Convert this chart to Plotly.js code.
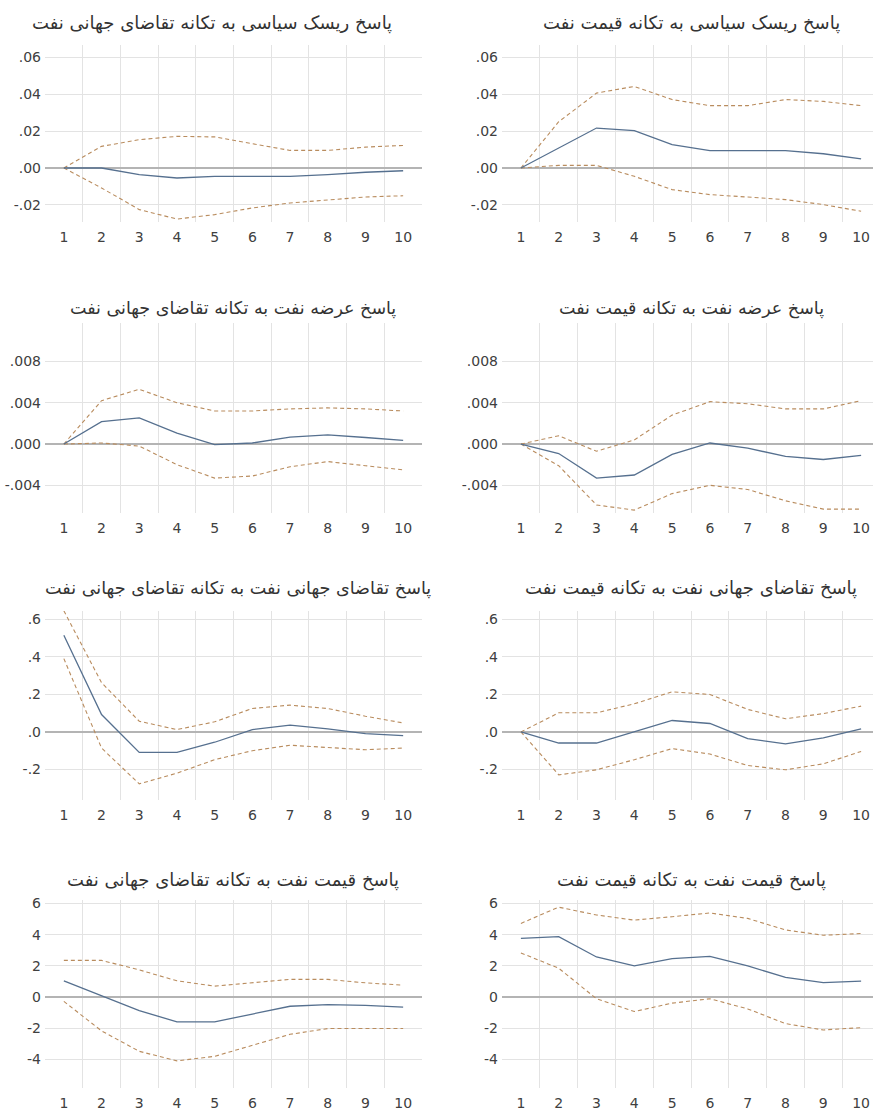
<!DOCTYPE html>
<html>
<head>
<meta charset="utf-8">
<script src="https://cdn.plot.ly/plotly-3.0.1.min.js"></script>
<style>
html,body{margin:0;padding:0;background:#fff;}
#chart{width:873px;height:1112px;}
</style>
</head>
<body>
<div id="chart"></div>
<script>
// Horizons
const periods = [1,2,3,4,5,6,7,8,9,10];

// Panel titles
const titles = [
  "پاسخ ریسک سیاسی به تکانه تقاضای جهانی نفت",
  "پاسخ ریسک سیاسی به تکانه قیمت نفت",
  "پاسخ عرضه نفت به تکانه تقاضای جهانی نفت",
  "پاسخ عرضه نفت به تکانه قیمت نفت",
  "پاسخ تقاضای جهانی نفت به تکانه تقاضای جهانی نفت",
  "پاسخ تقاضای جهانی نفت به تکانه قیمت نفت",
  "پاسخ قیمت نفت به تکانه تقاضای جهانی نفت",
  "پاسخ قیمت نفت به تکانه قیمت نفت"
];

// Panel 1: political risk <- world oil demand shock
const p1_mid   = [0, 0, -0.0036, -0.0054, -0.0045, -0.0045, -0.0045, -0.0036, -0.0023, -0.0015];
const p1_upper = [0, 0.0117, 0.0153, 0.0171, 0.0168, 0.0131, 0.0095, 0.0095, 0.0113, 0.0122];
const p1_lower = [0, -0.0108, -0.0225, -0.0276, -0.0252, -0.0216, -0.0189, -0.0171, -0.0157, -0.0150];

// Panel 2: political risk <- oil price shock
const p2_mid   = [0, 0.0108, 0.0216, 0.0202, 0.0126, 0.0094, 0.0094, 0.0094, 0.0077, 0.0049];
const p2_upper = [0, 0.0250, 0.0405, 0.0441, 0.0370, 0.0337, 0.0337, 0.0370, 0.0360, 0.0337];
const p2_lower = [0, 0.0014, 0.0014, -0.0045, -0.0117, -0.0144, -0.0157, -0.0171, -0.0198, -0.0234];

// Panel 3: oil supply <- world oil demand shock
const p3_mid   = [0, 0.00216, 0.00254, 0.00105, -0.00006, 0.0001, 0.00067, 0.00089, 0.00063, 0.00035];
const p3_upper = [0, 0.0042, 0.0053, 0.0040, 0.0032, 0.0032, 0.0034, 0.0035, 0.0034, 0.0032];
const p3_lower = [0, 0.0001, -0.0002, -0.0020, -0.0033, -0.0031, -0.0022, -0.0017, -0.0021, -0.0025];

// Panel 4: oil supply <- oil price shock
const p4_mid   = [0, -0.00092, -0.0033, -0.0030, -0.0010, 0.0001, -0.0004, -0.0012, -0.0015, -0.0011];
const p4_upper = [0, 0.0008, -0.0007, 0.0004, 0.0028, 0.0041, 0.0039, 0.0034, 0.0034, 0.0042];
const p4_lower = [0, -0.0021, -0.0059, -0.0064, -0.0048, -0.0040, -0.0044, -0.0055, -0.0063, -0.0063];

// Panel 5: world oil demand <- world oil demand shock
const p5_mid   = [0.516, 0.093, -0.109, -0.109, -0.055, 0.0125, 0.036, 0.016, -0.009, -0.020];
const p5_upper = [0.646, 0.2625, 0.057, 0.0125, 0.054, 0.125, 0.143, 0.125, 0.084, 0.048];
const p5_lower = [0.391, -0.086, -0.277, -0.220, -0.148, -0.100, -0.071, -0.082, -0.095, -0.086];

// Panel 6: world oil demand <- oil price shock
const p6_mid   = [0, -0.059, -0.059, 0, 0.061, 0.045, -0.036, -0.064, -0.032, 0.016];
const p6_upper = [0, 0.102, 0.102, 0.150, 0.214, 0.200, 0.120, 0.070, 0.098, 0.1375];
const p6_lower = [0, -0.229, -0.202, -0.148, -0.089, -0.118, -0.179, -0.202, -0.170, -0.104];

// Panel 7: oil price <- world oil demand shock
const p7_mid   = [1.04, 0.11, -0.87, -1.59, -1.59, -1.09, -0.59, -0.48, -0.54, -0.65];
const p7_upper = [2.35, 2.35, 1.74, 1.04, 0.70, 0.91, 1.13, 1.13, 0.91, 0.76];
const p7_lower = [-0.28, -2.17, -3.48, -4.09, -3.80, -3.09, -2.39, -2.02, -2.02, -2.02];

// Panel 8: oil price <- oil price shock
const p8_mid   = [3.76, 3.87, 2.57, 2.00, 2.46, 2.61, 2.00, 1.26, 0.93, 1.02];
const p8_upper = [4.72, 5.76, 5.26, 4.93, 5.15, 5.39, 5.04, 4.30, 3.96, 4.07];
const p8_lower = [2.83, 1.85, -0.11, -0.93, -0.39, -0.11, -0.76, -1.70, -2.11, -1.96];

// Y tick values / labels per row
const row1_tickvals = [-0.02, 0, 0.02, 0.04, 0.06];
const row1_ticktext = ["-.02", ".00", ".02", ".04", ".06"];
const row2_tickvals = [-0.004, 0, 0.004, 0.008];
const row2_ticktext = ["-.004", ".000", ".004", ".008"];
const row3_tickvals = [-0.2, 0, 0.2, 0.4, 0.6];
const row3_ticktext = ["-.2", ".0", ".2", ".4", ".6"];
const row4_tickvals = [-4, -2, 0, 2, 4, 6];
const row4_ticktext = ["-4", "-2", "0", "2", "4", "6"];
const xgrid_vals = [1.5, 2.5, 3.5, 4.5, 5.5, 6.5, 7.5, 8.5, 9.5];

const panels = [
  [p1_mid, p1_upper, p1_lower], [p2_mid, p2_upper, p2_lower],
  [p3_mid, p3_upper, p3_lower], [p4_mid, p4_upper, p4_lower],
  [p5_mid, p5_upper, p5_lower], [p6_mid, p6_upper, p6_lower],
  [p7_mid, p7_upper, p7_lower], [p8_mid, p8_upper, p8_lower]
];

const W = 873, H = 1112;
// layout geometry (pixels)
const rowBox = [[45, 222], [323, 513], [611, 800], [900, 1088]];
const rowRange = [[-0.0292, 0.0665], [-0.00668, 0.01172], [-0.363, 0.645], [-5.83, 6.22]];
const rowTicks = [[row1_tickvals, row1_ticktext], [row2_tickvals, row2_ticktext],
                  [row3_tickvals, row3_ticktext], [row4_tickvals, row4_ticktext]];
const titleY = [23, 308, 588, 880];
const colBox = [[45, 422], [502, 873]];
const colXRange = [[0.5, 10.5], [0.5, 10.5 - (880 - 873) / 37.7]];
const titleX = [[212, 691], [233, 691], [238, 691], [233, 691]];
const titleSize = [18, 18, 17.5, 17.5, 17.6, 18, 18, 18];

const blue = "#56708f";
const tan = "#b98c5e";
const tickFont = {family: "DejaVu Sans, sans-serif", size: 14, color: "#404040"};

const data = [];
const layout = {
  width: W, height: H,
  margin: {l: 0, r: 0, t: 0, b: 0},
  paper_bgcolor: "#ffffff", plot_bgcolor: "#ffffff",
  showlegend: false,
  annotations: []
};

panels.forEach((p, i) => {
  const r = Math.floor(i / 2), c = i % 2;
  const n = i + 1;
  const xa = "x" + (n === 1 ? "" : n), ya = "y" + (n === 1 ? "" : n);
  const xk = "xaxis" + (n === 1 ? "" : n), yk = "yaxis" + (n === 1 ? "" : n);
  [[p[1], true], [p[2], true], [p[0], false]].forEach(([vals, dashed]) => {
    data.push({
      x: periods, y: vals, xaxis: xa, yaxis: ya, type: "scatter", mode: "lines",
      line: dashed ? {color: tan, width: 1.1, dash: "4px,3px"} : {color: blue, width: 1.3},
      hoverinfo: "skip"
    });
  });
  layout[xk] = {
    domain: [colBox[c][0] / W, colBox[c][1] / W],
    range: colXRange[c], anchor: ya,
    tickvals: periods, ticktext: periods.map(String),
    showgrid: false, zeroline: false, showline: false,
    ticks: "outside", ticklen: 2, tickcolor: "rgba(0,0,0,0)",
    tickfont: tickFont,
    minor: {tickvals: xgrid_vals, showgrid: true, gridcolor: "#e3e3e3", gridwidth: 1, ticks: ""},
    fixedrange: true
  };
  layout[yk] = {
    domain: [1 - rowBox[r][1] / H, 1 - rowBox[r][0] / H],
    range: rowRange[r], anchor: xa,
    tickvals: rowTicks[r][0], ticktext: rowTicks[r][1],
    showgrid: true, gridcolor: "#e3e3e3", gridwidth: 1,
    zeroline: true, zerolinecolor: "#b4b4b4", zerolinewidth: 1.2,
    showline: false, ticks: "", tickfont: tickFont,
    ticklabelstandoff: 3,
    fixedrange: true
  };
  layout.annotations.push({
    text: titles[i], xref: "paper", yref: "paper",
    x: titleX[r][c] / W, y: 1 - titleY[r] / H,
    xanchor: "center", yanchor: "middle", showarrow: false,
    font: {family: "DejaVu Sans, sans-serif", size: titleSize[i], color: "#333333"}
  });
});

Plotly.newPlot("chart", data, layout, {staticPlot: true, displayModeBar: false});
</script>
</body>
</html>
